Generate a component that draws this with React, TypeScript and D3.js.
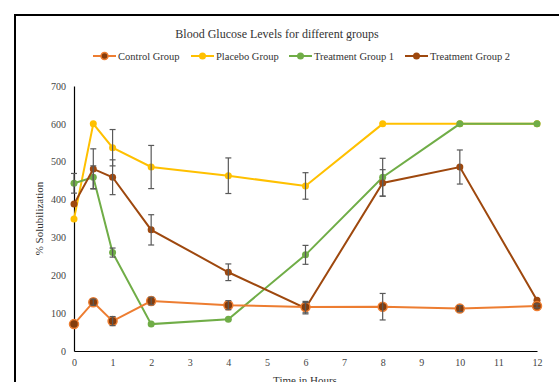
import React, { useRef, useEffect } from 'react';
import * as d3 from 'd3';

const hours = [0, 0.5, 1, 2, 4, 6, 8, 10, 12];
const xTicks = [0, 1, 2, 3, 4, 5, 6, 7, 8, 9, 10, 11, 12];
const yTicks = [0, 100, 200, 300, 400, 500, 600, 700];

const controlVals = [71, 129, 79, 132, 121, 116, 117, 112, 119];
const controlErr = [0, 8, 12, 10, 12, 15, 35, 8, 5];
const placeboVals = [349, 600, 537, 486, 463, 436, 600, 600, 600];
const placeboErr = [0, 0, 48, 57, 47, 35, 0, 0, 0];
const treat1Vals = [443, 459, 260, 71, 84, 254, 459, 600, 600];
const treat1Err = [26, 30, 12, 0, 0, 25, 50, 0, 0];
const treat2Vals = [388, 481, 459, 320, 208, 113, 444, 486, 134];
const treat2Err = [0, 53, 46, 40, 22, 15, 35, 45, 0];

const seriesNames = ['Control Group', 'Placebo Group', 'Treatment Group 1', 'Treatment Group 2'];
const seriesColors = ['#ED7D31', '#FFC000', '#70AD47', '#9E480E'];

const W = 559;
const H = 382;

const App = () => {
  const ref = useRef<SVGSVGElement>(null);

  useEffect(() => {
    const svg = d3.select(ref.current);
    svg.selectAll('*').remove();
    const font = 'Liberation Serif, Times New Roman, serif';

    const x = d3.scaleLinear().domain([0, 12]).range([74, 537]);
    const y = d3.scaleLinear().domain([0, 700]).range([351, 86]);

    svg.append('rect').attr('width', W).attr('height', H).attr('fill', '#fff');
    // outer frame
    svg.append('rect').attr('x', 15).attr('y', 15).attr('width', 600).attr('height', 420)
      .attr('fill', 'none').attr('stroke', '#000').attr('stroke-width', 2);

    svg.append('text').attr('x', 277).attr('y', 38).attr('text-anchor', 'middle')
      .attr('font-family', font).attr('font-size', 12).attr('fill', '#333')
      .text('Blood Glucose Levels for different groups');

    // legend
    const legendX = [93, 191, 289, 405];
    seriesNames.forEach((name, i) => {
      const g = svg.append('g').attr('transform', `translate(${legendX[i]},56)`);
      g.append('line').attr('x1', 0).attr('x2', 23).attr('stroke', seriesColors[i]).attr('stroke-width', 2);
      g.append('circle').attr('cx', 11.5).attr('r', 3.5)
        .attr('fill', i === 0 ? '#843C0C' : seriesColors[i])
        .attr('stroke', seriesColors[i]).attr('stroke-width', i === 0 ? 1.5 : 0);
      g.append('text').attr('x', 25).attr('y', 3.5).attr('font-family', font).attr('font-size', 10.5)
        .attr('fill', '#333').text(name);
    });

    // axes
    const xAxis = d3.axisBottom(x).tickValues(xTicks).tickSize(0).tickPadding(8).tickFormat(d3.format('d'));
    const gx = svg.append('g').attr('transform', `translate(0,${y(0)})`).call(xAxis);
    gx.select('.domain').attr('stroke', '#000').attr('stroke-width', 1.2);
    gx.selectAll('text').attr('font-family', font).attr('font-size', 10).attr('fill', '#444');

    const yAxis = d3.axisLeft(y).tickValues(yTicks).tickSize(0).tickPadding(8);
    const gy = svg.append('g').attr('transform', `translate(${x(0)},0)`).call(yAxis);
    gy.select('.domain').attr('stroke', '#000').attr('stroke-width', 1.2);
    gy.selectAll('text').attr('font-family', font).attr('font-size', 10).attr('fill', '#444');

    svg.append('text').attr('x', 305).attr('y', 384).attr('text-anchor', 'middle')
      .attr('font-family', font).attr('font-size', 11).attr('fill', '#333').text('Time in Hours');
    svg.append('text').attr('transform', `translate(43,${(y(0) + y(700)) / 2}) rotate(-90)`)
      .attr('text-anchor', 'middle').attr('font-family', font).attr('font-size', 11).attr('fill', '#333')
      .text('% Solubilization');

    const values = [controlVals, placeboVals, treat1Vals, treat2Vals];
    const errs = [controlErr, placeboErr, treat1Err, treat2Err];
    const order = [1, 2, 3, 0];
    const lineGen = d3.line<number>().x((_, i) => x(hours[i])).y(d => y(d));

    order.forEach(s => {
      svg.append('path').datum(values[s]).attr('d', lineGen)
        .attr('fill', 'none').attr('stroke', seriesColors[s]).attr('stroke-width', 2);
      svg.append('g').selectAll('circle').data(values[s]).join('circle')
        .attr('cx', (_, i) => x(hours[i])).attr('cy', d => y(d)).attr('r', s === 0 ? 4.5 : 3.5)
        .attr('fill', s === 0 ? '#843C0C' : seriesColors[s])
        .attr('stroke', s === 0 ? '#ED7D31' : 'none').attr('stroke-width', 1.5);
    });

    // error bars
    order.forEach(s => {
      const g = svg.append('g').attr('stroke', '#595959').attr('stroke-width', 1.2);
      values[s].forEach((v, i) => {
        const e = errs[s][i];
        if (!e) return;
        const cx = x(hours[i]);
        g.append('line').attr('x1', cx).attr('x2', cx).attr('y1', y(v + e)).attr('y2', y(v - e));
        g.append('line').attr('x1', cx - 3).attr('x2', cx + 3).attr('y1', y(v + e)).attr('y2', y(v + e));
        g.append('line').attr('x1', cx - 3).attr('x2', cx + 3).attr('y1', y(v - e)).attr('y2', y(v - e));
      });
    });
  }, []);

  return <svg ref={ref} width={W} height={H} style={{ position: 'absolute', left: 0, top: 0 }} />;
};

export default App;
